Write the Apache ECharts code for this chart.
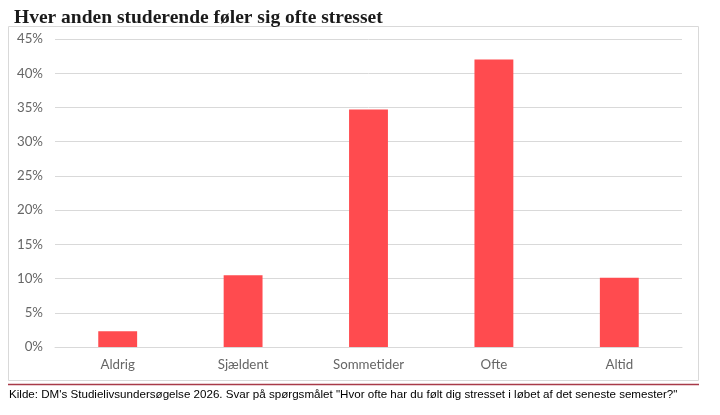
<!DOCTYPE html>
<html>
<head>
<meta charset="utf-8">
<script src="https://cdn.jsdelivr.net/npm/echarts@6/dist/echarts.min.js"></script>
<style>
  html, body { margin: 0; padding: 0; background: #fff; }
  #chart { width: 720px; height: 415px; }
</style>
</head>
<body>
<div id="chart"></div>
<script>
	// data
	var categories = ['Aldrig', 'Sjældent', 'Sommetider', 'Ofte', 'Altid'];
	var shares = [2.3, 10.5, 34.7, 42.0, 10.1];   // procent
	var yTicks = { min: 0, max: 45, step: 5 };

	var titleText = 'Hver anden studerende føler sig ofte stresset';
	var sourceText = 'Kilde: DM\'s Studielivsundersøgelse 2026. Svar på spørgsmålet "Hvor ofte har du følt dig stresset i løbet af det seneste semester?"';

	var chart = echarts.init(document.getElementById('chart'), null, { renderer: 'canvas' });
	chart.setOption({
		animation: false,
		title: {
			text: titleText,
			left: 9,
			top: 3,
			textStyle: {
				fontFamily: 'Liberation Serif',
				fontWeight: 'bold',
				fontSize: 19.5,
				color: '#1a1a1a'
			}
		},
		graphic: [
			{   // box round the plot
				type: 'rect',
				shape: { x: 8.5, y: 26.5, width: 690, height: 354 },
				style: { fill: 'none', stroke: '#d9d9d9', lineWidth: 1 },
				silent: true
			},
			{   // red rule under the box
				type: 'line',
				shape: { x1: 8, y1: 384.5, x2: 699, y2: 384.5 },
				style: { stroke: '#a83a48', lineWidth: 1.5 },
				silent: true
			},
			{
				type: 'text',
				left: 9,
				top: 389,
				style: {
					text: sourceText,
					fontFamily: 'Liberation Sans',
					fontSize: 11.6,
					fill: '#000'
				}
			}
		],
		grid: { left: 55, right: 38, top: 39, bottom: 68 },
		xAxis: {
			type: 'category',
			data: categories,
			axisLine: { show: true, lineStyle: { color: '#d9d9d9' } },
			axisTick: { show: false },
			axisLabel: { color: '#666', fontSize: 13.3, margin: 11, fontFamily: 'Lato' }
		},
		yAxis: {
			type: 'value',
			min: yTicks.min,
			max: yTicks.max,
			interval: yTicks.step,
			axisLine: { show: false },
			axisTick: { show: false },
			splitLine: { lineStyle: { color: '#d9d9d9' } },
			axisLabel: {
				color: '#666',
				fontSize: 13.3,
				margin: 12,
				fontFamily: 'Lato',
				formatter: '{value}%'
			}
		},
		series: [{
			type: 'bar',
			data: shares,
			barWidth: '31%',
			itemStyle: { color: '#ff4b4f' }
		}]
	});
</script>
</body>
</html>
